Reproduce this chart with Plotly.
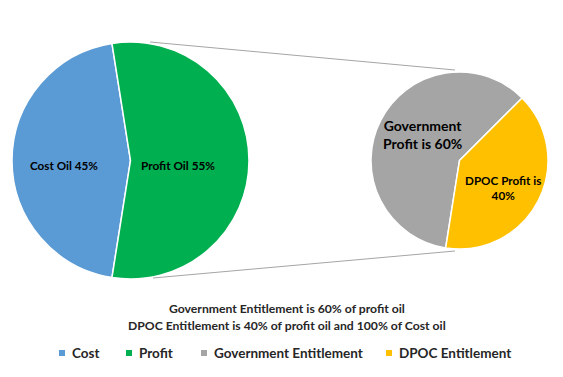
import plotly.graph_objects as go

# ---- data ----
main_labels = ["Cost", "Profit"]
main_values = [45, 55]
main_colors = ["#5B9BD5", "#00B050"]
main_text = ["Cost Oil 45%", "Profit Oil 55%"]

sub_labels = ["Government Entitlement", "DPOC Entitlement"]
sub_values = [60, 40]
sub_colors = ["#A5A5A5", "#FFC000"]
sub_text = ["Government<br>Profit is 60%", "DPOC Profit is<br>40%"]

note_lines = ["Government Entitlement is 60% of profit oil",
              "DPOC Entitlement is 40% of profit oil and 100% of Cost oil"]

legend_labels = main_labels + sub_labels
legend_colors = main_colors + sub_colors

# page body has an 8px margin; work in reference pixel coords and shift
OFF = 8
W, H = 563 - OFF, 377 - OFF
FONT = "Lato"
TXT = "#262626"


def px(x):
    return (x - OFF) / W


def py(y):
    return 1 - (y - OFF) / H


fig = go.Figure()
fig.add_trace(go.Pie(
    labels=main_labels, values=main_values, sort=False, direction="clockwise",
    rotation=-171, marker=dict(colors=main_colors, line=dict(color="white", width=1.5)),
    textinfo="none", showlegend=False,
    domain=dict(x=[px(12), px(249)], y=[py(279), py(42)]),
))
fig.add_trace(go.Pie(
    labels=sub_labels, values=sub_values, sort=False, direction="clockwise",
    rotation=-171, marker=dict(colors=sub_colors, line=dict(color="white", width=1.5)),
    textinfo="none", showlegend=False,
    domain=dict(x=[px(371), px(548)], y=[py(249), py(72)]),
))

shapes = [
    dict(type="line", xref="paper", yref="paper", x0=px(150), y0=py(42), x1=px(455), y1=py(70),
         line=dict(color="#A5A5A5", width=1)),
    dict(type="line", xref="paper", yref="paper", x0=px(153), y0=py(278), x1=px(455), y1=py(251),
         line=dict(color="#A5A5A5", width=1)),
    dict(type="line", xref="paper", yref="paper", x0=px(562), y0=0, x1=px(562), y1=1,
         line=dict(color="#D9D9D9", width=1)),
]

annotations = []
# slice labels
label_pos = [(64, 165, 11.7), (178, 165, 11.8)]
for t, (x, y, s) in zip(main_text, label_pos):
    annotations.append(dict(text="<b>%s</b>" % t, x=px(x), y=py(y), xref="paper", yref="paper",
                            showarrow=False, xanchor="center", yanchor="middle",
                            font=dict(family=FONT, size=s, color="#000000")))
sub_pos = [(422, 134, 14), (503, 187, 11.7)]
for t, (x, y, s) in zip(sub_text, sub_pos):
    annotations.append(dict(text="<b>%s</b>" % t, x=px(x), y=py(y), xref="paper", yref="paper",
                            showarrow=False, xanchor="center", yanchor="middle",
                            font=dict(family=FONT, size=s, color="#000000")))
# notes
for t, y in zip(note_lines, [308, 325]):
    annotations.append(dict(text="<b>%s</b>" % t, x=px(287), y=py(y), xref="paper", yref="paper",
                            showarrow=False, xanchor="center", yanchor="middle",
                            font=dict(family=FONT, size=12.2, color=TXT)))

# custom legend
leg_marker_x = [62, 129, 204, 389]
leg_y = 353
for lab, col, mx in zip(legend_labels, legend_colors, leg_marker_x):
    shapes.append(dict(type="rect", xref="paper", yref="paper",
                       x0=px(mx - 3), x1=px(mx + 3), y0=py(leg_y + 3), y1=py(leg_y - 3),
                       fillcolor=col, line=dict(width=0)))
    annotations.append(dict(text="<b>%s</b>" % lab, x=px(mx + 8), y=py(leg_y), xref="paper", yref="paper",
                            showarrow=False, xanchor="left", yanchor="middle",
                            font=dict(family=FONT, size=13.5, color=TXT)))

fig.update_layout(
    width=W, height=H, margin=dict(l=0, r=0, t=0, b=0),
    paper_bgcolor="white", plot_bgcolor="white",
    shapes=shapes, annotations=annotations, showlegend=False,
)

fig.write_html("out.html")
